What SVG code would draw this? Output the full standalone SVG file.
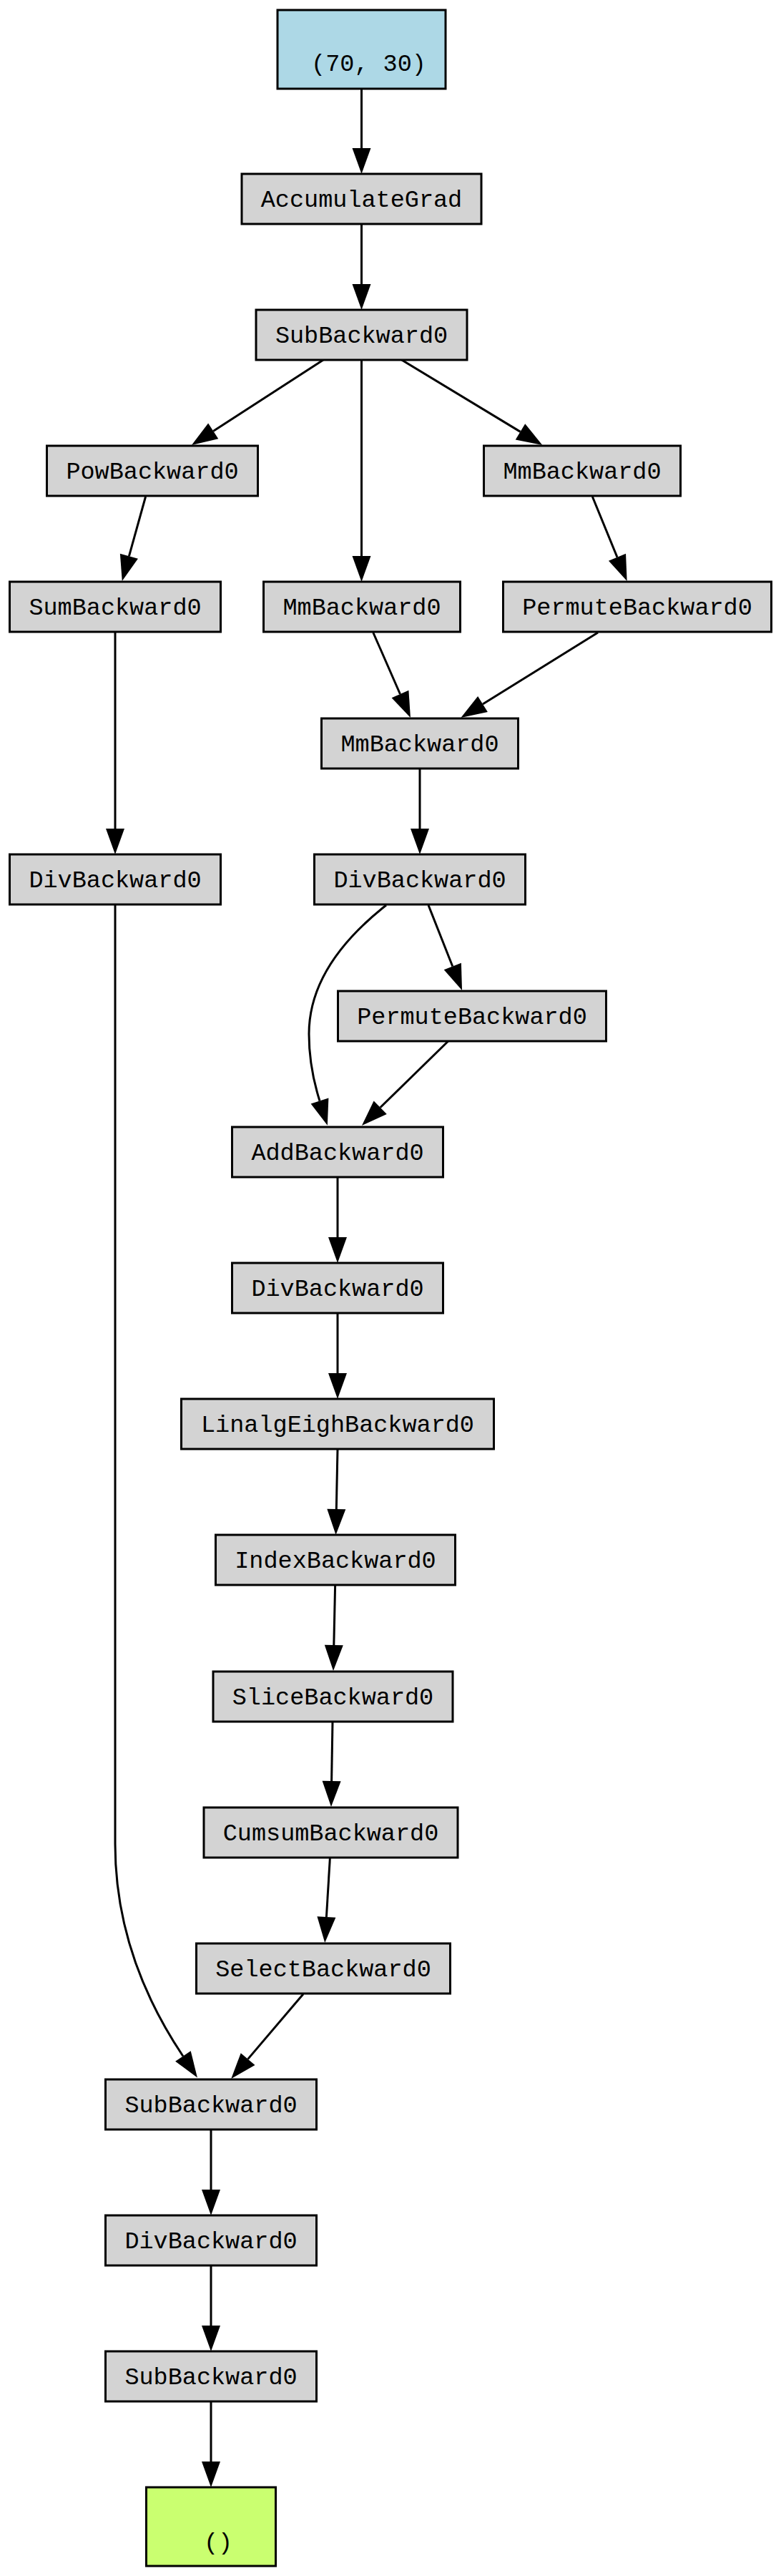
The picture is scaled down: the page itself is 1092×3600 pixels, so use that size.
<svg xmlns="http://www.w3.org/2000/svg" width="1092" height="3600" viewBox="0 0 1092 3600">
<style>
  .n rect { fill: #d3d3d3; stroke: #000; stroke-width: 3; }
  .n text, .t text { font-family: "Liberation Mono", "Courier New", monospace; font-size: 33.5px; fill: #000; text-anchor: middle; }
  .t rect { stroke: #000; stroke-width: 3; }
  #edges path { fill: none; stroke: #000; stroke-width: 3; marker-end: url(#ah); }
</style>
<defs>
  <marker id="ah" markerUnits="userSpaceOnUse" markerWidth="40" markerHeight="30" refX="0" refY="13" orient="auto" overflow="visible">
    <path d="M0,0 L36,13 L0,26 Z" fill="#000"/>
  </marker>
</defs>
<rect x="0" y="0" width="1092" height="3600" fill="#fff"/>
<g id="edges">
  <path d="M505.5,124 L505.5,207"/>
  <path d="M505.5,313 L505.5,397"/>
  <path d="M452,503 L298.2,602.4"/>
  <path d="M561.7,503 L727.5,603.4"/>
  <path d="M505.5,503 L505.5,777"/>
  <path d="M203.6,694 L180.4,777.3"/>
  <path d="M828.3,694 L863,778.7"/>
  <path d="M161,884 L161,1158"/>
  <path d="M521.8,884 L559.5,970"/>
  <path d="M836,884 L675,984"/>
  <path d="M587,1074 L587,1158"/>
  <path d="M540,1265 C470,1320 432,1380 432,1445 C432,1480 438,1510 447,1538.5"/>
  <path d="M599,1265 L632.8,1350.5"/>
  <path d="M626.7,1455 L531.7,1547.8"/>
  <path d="M472,1645 L472,1729"/>
  <path d="M472,1835 L472,1919"/>
  <path d="M472,2025 L470.3,2109"/>
  <path d="M468.6,2216 L466.8,2299"/>
  <path d="M465,2406 L463.6,2489"/>
  <path d="M461.4,2596 L456.4,2679"/>
  <path d="M424,2786.7 L346.6,2877.6"/>
  <path d="M161,1265 L161,2577 C161,2690 200,2790 255.9,2873.5"/>
  <path d="M295,2976 L295,3060"/>
  <path d="M295,3166 L295,3250"/>
  <path d="M295,3356 L295,3440"/>
</g>
<g id="input" class="t"><rect x="388" y="14" width="235" height="110" fill="#add8e6"/><text x="515.5" y="99">(70, 30)</text></g>
<g id="accumulategrad" class="n"><rect x="338" y="243" width="335" height="70"/><text x="505.5" y="288.5">AccumulateGrad</text></g>
<g id="sub1" class="n"><rect x="358" y="433" width="295" height="70"/><text x="505.5" y="478.5">SubBackward0</text></g>
<g id="pow" class="n"><rect x="65.5" y="623" width="295" height="70"/><text x="213" y="668.5">PowBackward0</text></g>
<g id="mm1" class="n"><rect x="676.5" y="623" width="275" height="70"/><text x="814" y="668.5">MmBackward0</text></g>
<g id="sum" class="n"><rect x="13.5" y="813" width="295" height="70"/><text x="161" y="858.5">SumBackward0</text></g>
<g id="mm2" class="n"><rect x="368.5" y="813" width="275" height="70"/><text x="506" y="858.5">MmBackward0</text></g>
<g id="permute1" class="n"><rect x="703.5" y="813" width="375" height="70"/><text x="891" y="858.5">PermuteBackward0</text></g>
<g id="mm3" class="n"><rect x="449.5" y="1004" width="275" height="70"/><text x="587" y="1049.5">MmBackward0</text></g>
<g id="div1" class="n"><rect x="13.5" y="1194" width="295" height="70"/><text x="161" y="1239.5">DivBackward0</text></g>
<g id="div2" class="n"><rect x="439.5" y="1194" width="295" height="70"/><text x="587" y="1239.5">DivBackward0</text></g>
<g id="permute2" class="n"><rect x="472.5" y="1385" width="375" height="70"/><text x="660" y="1430.5">PermuteBackward0</text></g>
<g id="add" class="n"><rect x="324.5" y="1575" width="295" height="70"/><text x="472" y="1620.5">AddBackward0</text></g>
<g id="div3" class="n"><rect x="324.5" y="1765" width="295" height="70"/><text x="472" y="1810.5">DivBackward0</text></g>
<g id="linalgeigh" class="n"><rect x="253.5" y="1955" width="437" height="70"/><text x="472" y="2000.5">LinalgEighBackward0</text></g>
<g id="index" class="n"><rect x="301.5" y="2145" width="335" height="70"/><text x="469" y="2190.5">IndexBackward0</text></g>
<g id="slice" class="n"><rect x="298" y="2336" width="335" height="70"/><text x="465.5" y="2381.5">SliceBackward0</text></g>
<g id="cumsum" class="n"><rect x="285" y="2526" width="355" height="70"/><text x="462.5" y="2571.5">CumsumBackward0</text></g>
<g id="select" class="n"><rect x="274.5" y="2716" width="355" height="70"/><text x="452" y="2761.5">SelectBackward0</text></g>
<g id="sub2" class="n"><rect x="147.5" y="2906" width="295" height="70"/><text x="295" y="2951.5">SubBackward0</text></g>
<g id="div4" class="n"><rect x="147.5" y="3096" width="295" height="70"/><text x="295" y="3141.5">DivBackward0</text></g>
<g id="sub3" class="n"><rect x="147.5" y="3286" width="295" height="70"/><text x="295" y="3331.5">SubBackward0</text></g>
<g id="output" class="t"><rect x="204.5" y="3476" width="181" height="110" fill="#caff70"/><text x="305" y="3563">()</text></g>
</svg>
